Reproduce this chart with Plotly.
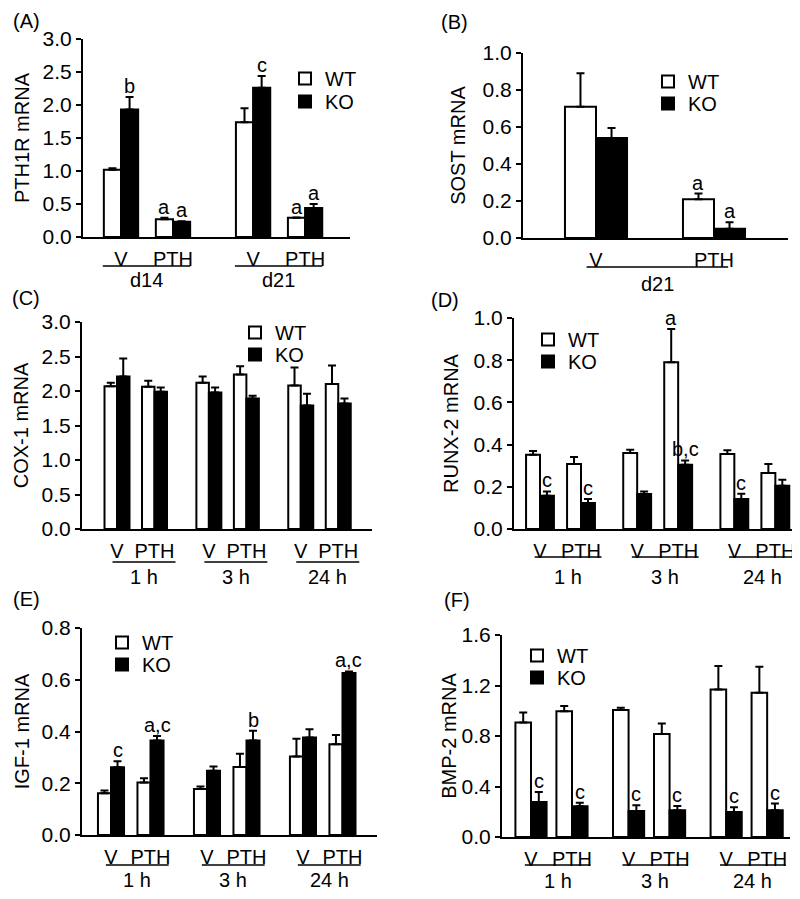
import plotly.graph_objects as go

# ---------------- data ----------------
conditions = ["V", "PTH"]

# (A) PTH1R mRNA
A_groups = ["d14", "d21"]
A_wt = [1.02, 0.27, 1.74, 0.29]
A_wt_err = [0.02, 0.02, 0.21, 0.005]
A_ko = [1.93, 0.23, 2.26, 0.44]
A_ko_err = [0.19, 0.01, 0.18, 0.06]
A_wt_sig = ["", "a", "", "a"]
A_ko_sig = ["b", "a", "c", "a"]

# (B) SOST mRNA
B_groups = ["d21"]
B_wt = [0.71, 0.21]
B_wt_err = [0.18, 0.03]
B_ko = [0.54, 0.05]
B_ko_err = [0.055, 0.035]
B_wt_sig = ["", "a"]
B_ko_sig = ["", "a"]

times = ["1 h", "3 h", "24 h"]

# (C) COX-1 mRNA
C_wt = [2.07, 2.06, 2.12, 2.24, 2.08, 2.10]
C_wt_err = [0.05, 0.09, 0.09, 0.12, 0.26, 0.27]
C_ko = [2.21, 1.99, 1.98, 1.89, 1.79, 1.82]
C_ko_err = [0.26, 0.06, 0.07, 0.04, 0.17, 0.07]
C_wt_sig = ["", "", "", "", "", ""]
C_ko_sig = ["", "", "", "", "", ""]

# (D) RUNX-2 mRNA
D_wt = [0.352, 0.308, 0.36, 0.79, 0.355, 0.265]
D_wt_err = [0.018, 0.033, 0.016, 0.158, 0.018, 0.043]
D_ko = [0.158, 0.123, 0.166, 0.305, 0.142, 0.205]
D_ko_err = [0.02, 0.019, 0.012, 0.02, 0.025, 0.029]
D_wt_sig = ["", "", "", "a", "", ""]
D_ko_sig = ["c", "c", "", "b,c", "c", ""]

# (E) IGF-1 mRNA
E_wt = [0.161, 0.203, 0.178, 0.263, 0.303, 0.351]
E_wt_err = [0.011, 0.016, 0.009, 0.051, 0.069, 0.035]
E_ko = [0.262, 0.365, 0.248, 0.365, 0.377, 0.626]
E_ko_err = [0.023, 0.018, 0.017, 0.038, 0.032, 0.006]
E_wt_sig = ["", "", "", "", "", ""]
E_ko_sig = ["c", "a,c", "", "b", "", "a,c"]

# (F) BMP-2 mRNA
F_wt = [0.907, 0.997, 1.005, 0.815, 1.169, 1.143]
F_wt_err = [0.08, 0.04, 0.019, 0.085, 0.185, 0.206]
F_ko = [0.278, 0.243, 0.206, 0.212, 0.198, 0.212]
F_ko_err = [0.079, 0.029, 0.045, 0.034, 0.037, 0.053]
F_wt_sig = ["", "", "", "", "", ""]
F_ko_sig = ["c", "c", "c", "c", "c", "c"]

# ---------------- layout ----------------
PAGE_OFF = 8                      # default page body margin
W, H = 800 - PAGE_OFF, 899 - PAGE_OFF
FONT = "Arial, Liberation Sans, sans-serif"
FS = 20
FS_TICK = 21

fig = go.Figure()
layout_updates = {}
annotations = []
shapes = []


def px_x(v):
    return (v - PAGE_OFF) / W


def px_y(v):
    return 1 - (v - PAGE_OFF) / H


def add_panel(idx, letter, letter_xy, groups, wt, wt_err, ko, ko_err, wt_sig, ko_sig,
              title, xdom, ydom, x0px, unit, gstep, bw, ul, ul_y, tl_y, ymax, dtick,
              standoff, legend_xy):
    sfx = "" if idx == 1 else str(idx)
    xa, ya = "x" + sfx, "y" + sfx
    pos = [g * gstep + c for g in range(len(groups)) for c in range(len(conditions))]
    labels = [c for g in groups for c in conditions]
    n = len(pos)
    series = (("WT", wt, wt_err, "white", -bw, 2 * idx - 1, legend_xy[1]),
              ("KO", ko, ko_err, "black", 0.0, 2 * idx, legend_xy[2]))
    for name, vals, errs, fill, off, legnum, leg_y in series:
        leg = "legend" if legnum == 1 else "legend" + str(legnum)
        fig.add_trace(go.Bar(
            x=pos, y=vals, width=[bw] * n, offset=[off] * n, name=name,
            marker=dict(color=fill, line=dict(color="black", width=2)),
            error_y=dict(type="data", array=errs, arrayminus=[0] * n, symmetric=False,
                         color="black", thickness=2, width=4),
            xaxis=xa, yaxis=ya, legend=leg, showlegend=True,
        ))
        layout_updates[leg] = dict(
            x=px_x(legend_xy[0] - 45), y=px_y(leg_y - 17), xanchor="left", yanchor="top",
            bgcolor="rgba(0,0,0,0)", borderwidth=0, itemwidth=30,
            font=dict(size=FS, color="black", family=FONT),
        )
    # significance letters
    for vals, errs, sig, shift in ((wt, wt_err, wt_sig, -bw / 2), (ko, ko_err, ko_sig, bw / 2)):
        for p, v, e, s in zip(pos, vals, errs, sig):
            if s:
                annotations.append(dict(x=p + shift, y=v + e, xref=xa, yref=ya, text=s,
                                        showarrow=False, yanchor="bottom", yshift=-2,
                                        font=dict(size=FS, color="black", family=FONT)))
    # group underline + label
    for g, gname in enumerate(groups):
        xl = g * gstep - ul[0]
        xr = g * gstep + 1 + ul[1]
        shapes.append(dict(type="line", xref=xa, yref="paper", x0=xl, x1=xr,
                           y0=px_y(ul_y), y1=px_y(ul_y), line=dict(color="black", width=1.5)))
        annotations.append(dict(x=(xl + xr) / 2, y=px_y(tl_y), xref=xa, yref="paper",
                                text=gname, showarrow=False, yanchor="middle",
                                font=dict(size=FS, color="black", family=FONT)))
    annotations.append(dict(x=px_x(letter_xy[0]), y=px_y(letter_xy[1]), xref="paper", yref="paper",
                            text=letter, showarrow=False, xanchor="center", yanchor="middle",
                            font=dict(size=FS, color="black", family=FONT)))
    xname = "xaxis" + sfx
    yname = "yaxis" + sfx
    layout_updates[xname] = dict(
        domain=[px_x(xdom[0]), px_x(xdom[1])],
        range=[(xdom[0] - x0px) / unit, (xdom[1] - x0px) / unit],
        anchor=ya, showline=True, linecolor="black", linewidth=2, showgrid=False,
        zeroline=False, tickmode="array", tickvals=pos, ticktext=labels,
        ticks="outside", ticklen=3, tickcolor="rgba(0,0,0,0)", automargin=False,
        tickfont=dict(size=FS, color="black", family=FONT), fixedrange=True,
    )
    layout_updates[yname] = dict(
        domain=[px_y(ydom[1]), px_y(ydom[0])], range=[0, ymax], anchor=xa,
        showline=True, linecolor="black", linewidth=2, showgrid=False, zeroline=False,
        ticks="outside", ticklen=5, tickwidth=2, tickcolor="black", dtick=dtick,
        tickformat=".1f", tickfont=dict(size=FS_TICK, color="black", family=FONT),
        title=dict(text=title, standoff=standoff, font=dict(size=FS, color="black", family=FONT)),
        automargin=False, fixedrange=True,
    )


add_panel(1, "(A)", (26, 21), A_groups, A_wt, A_wt_err, A_ko, A_ko_err, A_wt_sig, A_ko_sig,
          "PTH1R mRNA", (83, 350), (39, 237), 121, 52, 2.54, 0.33, (0.35, 0.33), 266, 280,
          3.0, 0.5, 8, (330, 76, 99))
add_panel(2, "(B)", (454, 22), B_groups, B_wt, B_wt_err, B_ko, B_ko_err, B_wt_sig, B_ko_sig,
          "SOST mRNA", (523, 788), (53, 238), 596, 118, 1.0, 0.263, (0.08, 0.12), 267, 284,
          1.0, 0.2, 12, (693, 79, 101))
add_panel(3, "(C)", (26, 298), times, C_wt, C_wt_err, C_ko, C_ko_err, C_wt_sig, C_ko_sig,
          "COX-1 mRNA", (82, 372), (322, 529), 117, 37.5, 2.45, 0.333, (0.12, 0.56), 562, 577,
          3.0, 0.5, 8, (280, 330, 352))
add_panel(4, "(D)", (445, 300), times, D_wt, D_wt_err, D_ko, D_ko_err, D_wt_sig, D_ko_sig,
          "RUNX-2 mRNA", (514, 792), (318, 529), 540, 41, 2.37, 0.34, (0.13, 0.5), 557, 577,
          1.0, 0.2, 10, (573, 337, 359))
add_panel(5, "(E)", (26, 599), times, E_wt, E_wt_err, E_ko, E_ko_err, E_wt_sig, E_ko_sig,
          "IGF-1 mRNA", (82, 377), (628, 835), 111, 39.5, 2.43, 0.33, (0.13, 0.46), 865, 880,
          0.8, 0.2, 7, (147, 640, 662))
add_panel(6, "(F)", (457, 600), times, F_wt, F_wt_err, F_ko, F_ko_err, F_wt_sig, F_ko_sig,
          "BMP-2 mRNA", (502, 790), (635, 837), 531, 41, 2.38, 0.38, (0.15, 0.45), 865, 881,
          1.6, 0.4, 0, (562, 653, 675))

fig.update_layout(
    template="none",
    width=W, height=H, margin=dict(l=0, r=0, t=0, b=0, autoexpand=False),
    paper_bgcolor="white", plot_bgcolor="white", barmode="overlay",
    font=dict(family=FONT, size=FS, color="black"),
    annotations=annotations, shapes=shapes, **layout_updates,
)
fig.write_html("out.html")
